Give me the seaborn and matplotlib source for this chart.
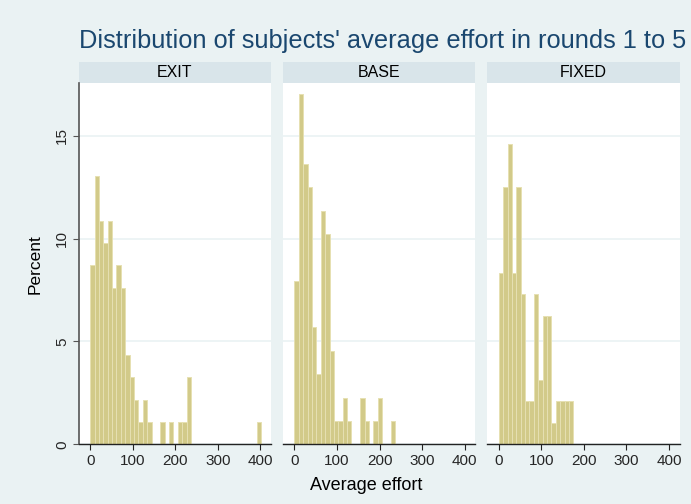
# Histogram of average effort, rounds 1-5, by treatment (Stata-style look)

import numpy as np
import pandas as pd
import matplotlib
matplotlib.use('Agg')
import matplotlib.pyplot as plt
import seaborn as sns
from matplotlib.patches import Rectangle

# bin counts (bin width ~10.3, starting at 0)
treatments = ['EXIT', 'BASE', 'FIXED']
exit_counts = [8, 12, 10, 9, 10, 7, 8, 7, 4, 3, 2, 1, 2, 1, 0, 0, 1, 0, 1, 0,
               1, 1, 3, 0, 0, 0, 0, 0, 0, 0, 0, 0, 0, 0, 0, 0, 0, 0, 1]
base_counts = [7, 15, 12, 11, 5, 3, 10, 9, 4, 1, 1, 2, 1, 0, 0, 2, 1, 0, 1, 2,
               0, 0, 1]
fixed_counts = [8, 12, 14, 8, 12, 7, 2, 2, 7, 3, 6, 6, 1, 2, 2, 2, 2]
bin_width = 10.3
n_bins = 39

x_ticks = [0, 100, 200, 300, 400]
y_ticks = [0, 5, 10, 15]

BG = '#EAF2F3'
STRIP = '#D9E5EA'
BAR = '#D2CA89'
BAR_EDGE = '#E6E0B2'
NAVY = '#1A476F'

sns.set_style('white')
plt.rcParams['font.family'] = ['Liberation Sans', 'DejaVu Sans']

edges = np.arange(n_bins + 1) * bin_width
mids = (edges[:-1] + edges[1:]) / 2

fig, axes = plt.subplots(1, 3, figsize=(6.91, 5.04), dpi=100, sharey=True)
fig.patch.set_facecolor(BG)
fig.subplots_adjust(left=0.1139, right=0.9835, bottom=0.1185, top=0.8347,
                    wspace=0.0624)

all_counts = [exit_counts, base_counts, fixed_counts]
for i, (ax, name, counts) in enumerate(zip(axes, treatments, all_counts)):
    c = np.zeros(n_bins)
    c[:len(counts)] = counts
    df = pd.DataFrame({'effort': mids, 'pct': c / c.sum() * 100})
    df = df[df['pct'] > 0]

    ax.set_facecolor('white')
    ax.set_axisbelow(True)
    ax.yaxis.grid(True, color=BG, linewidth=1.2)
    sns.histplot(data=df, x='effort', weights='pct', binwidth=bin_width,
                 binrange=(0, n_bins * bin_width), ax=ax,
                 color=BAR, edgecolor=BAR_EDGE, linewidth=0.7, alpha=1)

    ax.set_xlim(-27, 425)
    ax.set_ylim(0, 17.55)
    ax.set_xticks(x_ticks)
    ax.set_yticks(y_ticks)
    ax.set_xlabel('')
    ax.set_ylabel('')
    ax.tick_params(axis='x', length=4, width=0.8, color='#222222',
                   labelsize=11, pad=3, direction='out', bottom=True)

    for s in ['top', 'right']:
        ax.spines[s].set_visible(False)
    ax.spines['bottom'].set_color('#222222')
    ax.spines['bottom'].set_linewidth(1)

    if i == 0:
        ax.spines['left'].set_color('#555555')
        ax.spines['left'].set_linewidth(1.2)
        ax.tick_params(axis='y', length=4, width=0.8, color='#555555',
                       labelsize=11, pad=3, direction='out', left=True)
        plt.setp(ax.get_yticklabels(), rotation=90, va='center')
    else:
        ax.spines['left'].set_visible(False)
        ax.tick_params(axis='y', length=0, left=False, labelleft=False)

    # strip header above each panel
    sh = 21.6 / 361
    ax.add_patch(Rectangle((0, 1), 1, sh, transform=ax.transAxes,
                           facecolor=STRIP, edgecolor='none', clip_on=False))
    ax.text(0.5, 1 + sh / 2, name, transform=ax.transAxes, ha='center',
            va='center', fontsize=11.5, color='black')

fig.text(383 / 691, 1 - 41 / 504,
         "Distribution of subjects' average effort in rounds 1 to 5",
         ha='center', va='center', fontsize=18.3, color=NAVY)
fig.text(366 / 691, 1 - 485 / 504, 'Average effort', ha='center',
         va='center', fontsize=13, color='black')
fig.text(35 / 691, 1 - 264 / 504, 'Percent', ha='center', va='center',
         rotation=90, fontsize=12.5, color='black')

plt.savefig('out.png', dpi=100, facecolor=BG)
